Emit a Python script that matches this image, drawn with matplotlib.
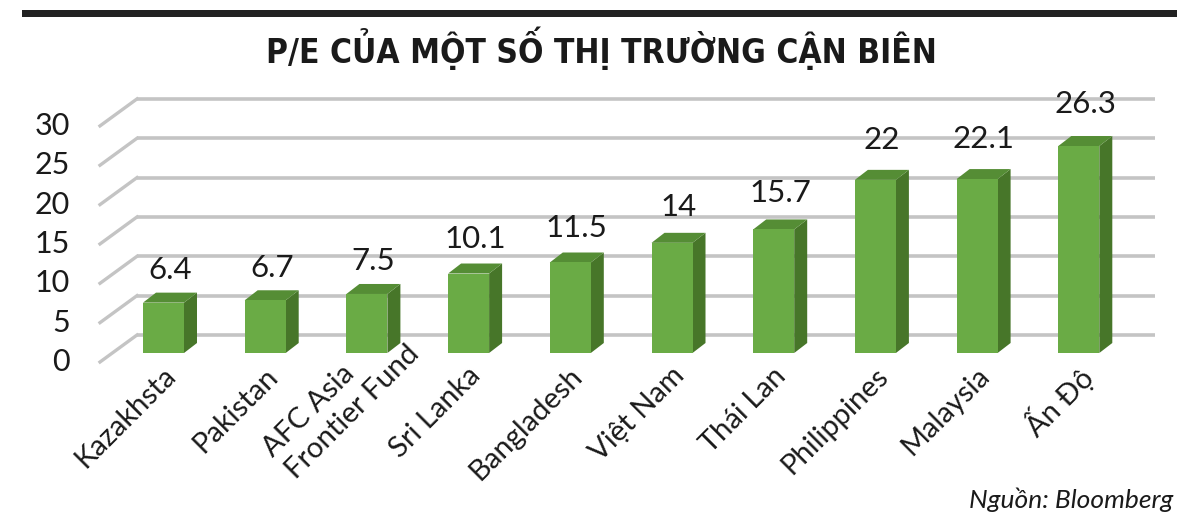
import numpy as np
import matplotlib
matplotlib.use("Agg")
import matplotlib.pyplot as plt
from matplotlib.patches import Polygon, Rectangle

# data
categories = ["Kazakhsta", "Pakistan", "AFC Asia\nFrontier Fund", "Sri Lanka",
              "Bangladesh", "Việt Nam", "Thái Lan", "Philippines", "Malaysia", "Ấn Độ"]
pe_values = [6.4, 6.7, 7.5, 10.1, 11.5, 14, 15.7, 22, 22.1, 26.3]
value_labels = ["6.4", "6.7", "7.5", "10.1", "11.5", "14", "15.7", "22", "22.1", "26.3"]
y_ticks = [0, 5, 10, 15, 20, 25, 30]

title = "P/E CỦA MỘT SỐ THỊ TRƯỜNG CẬN BIÊN"
source = "Nguồn: Bloomberg"

plt.rcParams['font.family'] = ['Lato', 'DejaVu Sans']

W, H = 1200, 527
fig = plt.figure(figsize=(W / 100, H / 100), dpi=100)
ax = fig.add_axes([0, 0, 1, 1])

# pixel scale of the axes (category step, value unit)
px_cat = 101.7
px_val = 7.87
x0_px, y0_px = 163.5, 353
ax.set_xlim(-x0_px / px_cat, (W - x0_px) / px_cat)
ax.set_ylim((y0_px - H) / px_val, y0_px / px_val)
ax.axis("off")

def cx(px):
    return px / px_cat

def cy(px):
    return px / px_val

half_w = cx(20.5)
dx_d, dy_d = cx(13), cy(10)      # bar depth
back_dy = cy(18)                 # back wall above bar plane
front_dy = cy(-9)                # front edge below bar plane
wall_left = cx(137 - x0_px)
front_left = cx(100 - x0_px)
wall_right = cx(1155 - x0_px)

grid_col = "#c4c4c4"
for t in y_ticks:
    ax.plot([wall_left, wall_right], [t + back_dy, t + back_dy], color=grid_col,
            lw=2.6, zorder=1, solid_capstyle="butt")
    ax.plot([front_left, wall_left], [t + front_dy, t + back_dy], color=grid_col,
            lw=2.4, zorder=1)
    ax.text(cx(70 - x0_px), t + front_dy, str(t), ha="right", va="center",
            fontsize=22, color="#1a1a1a")

front_col = "#6aab45"
top_col = "#558d35"
side_col = "#477629"
for i, v in enumerate(pe_values):
    l, r = i - half_w, i + half_w
    ax.add_patch(Polygon([(r, 0), (r + dx_d, dy_d), (r + dx_d, v + dy_d), (r, v)],
                         closed=True, fc=side_col, ec="none", zorder=3))
    ax.add_patch(Polygon([(l, v), (r, v), (r + dx_d, v + dy_d), (l + dx_d, v + dy_d)],
                         closed=True, fc=top_col, ec="none", zorder=3))
    ax.add_patch(Rectangle((l, 0), 2 * half_w, v, fc=front_col, ec="none", zorder=4))
    off = cy(19 + 0.5 * v)
    ax.text(i + dx_d / 2, v + dy_d + off, value_labels[i], ha="center", va="center",
            fontsize=22.5, color="#1a1a1a", zorder=5)

for i, name in enumerate(categories):
    if "\n" in name:
        ax.text(i + 0.36, 1.8, name, rotation=45, rotation_mode="anchor",
                ha="right", va="center", multialignment="left",
                fontsize=21, color="#1a1a1a", linespacing=1.25)
    else:
        ax.text(i + 0.08, -2.4, name, rotation=45, rotation_mode="anchor",
                ha="right", va="center", fontsize=21, color="#1a1a1a")

# header bar, title and source
fig.add_artist(Rectangle((22 / W, 1 - 17 / H), (1177 - 22) / W, 7 / H,
                         transform=fig.transFigure, fc="#222222", ec="none"))
fig.text(601 / W, 1 - 48 / H, title, ha="center", va="center", fontsize=24,
         fontweight="bold", fontstretch="condensed", color="#1a1a1a",
         family=["DejaVu Sans"])
fig.text(1173 / W, 1 - 500 / H, source, ha="right", va="center", fontsize=19,
         style="italic", color="#1a1a1a")

fig.savefig("out.png", dpi=100)
